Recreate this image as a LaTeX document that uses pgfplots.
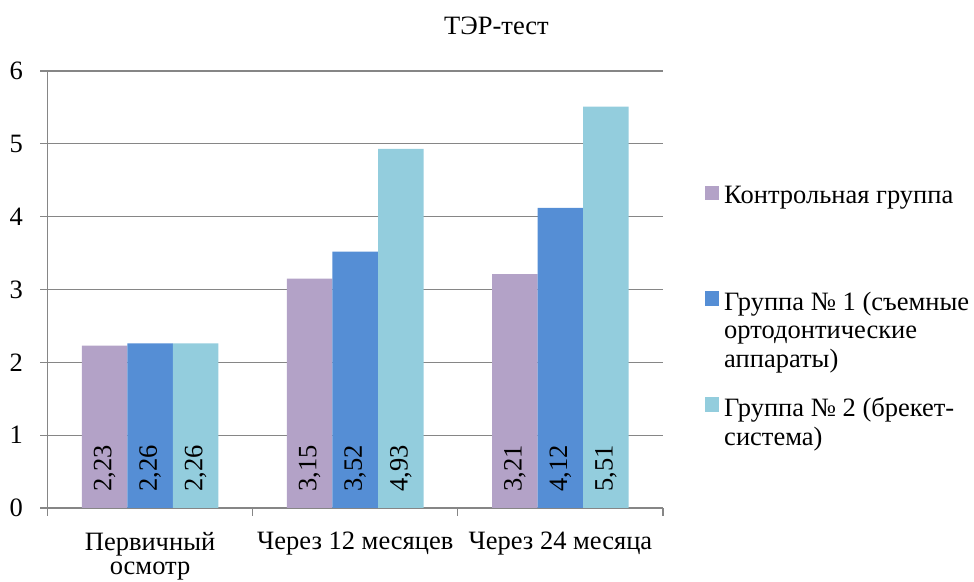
\documentclass[border=0pt]{standalone}
\usepackage{fontspec}
\setmainfont{Liberation Serif}
\usepackage{pgfplots}
\pgfplotsset{compat=1.18}
\definecolor{cA}{HTML}{B3A2C7}
\definecolor{cB}{HTML}{558ED5}
\definecolor{cC}{HTML}{93CDDD}
\definecolor{gridc}{HTML}{868686}
\begin{document}
\fontsize{26.5bp}{28.5bp}\selectfont
\begin{tikzpicture}
\begin{axis}[
  at={(47.5bp,74bp)}, anchor=south west,
  scale only axis, width=615.5bp, height=437bp,
  xmin=-0.5, xmax=2.5, ymin=0, ymax=6,
  axis lines*=left, axis line style={draw=gridc, line width=1.2bp, -},
  ytick={0,1,2,3,4,5,6}, ymajorgrids, grid style={draw=gridc, line width=1.2bp},
  xtick={-0.5,0.5,1.5,2.5}, xticklabels={},
  extra x ticks={0,1,2},
  extra x tick labels={{Первичный\\[-4bp]осмотр},{Через 12 месяцев},{Через 24 месяца}},
  extra x tick style={major tick length=0pt, grid=none},
  tick align=outside, major tick length=7.5bp, tick style={draw=gridc, line width=1.2bp},
  xticklabel style={align=center, anchor=north, inner sep=0pt, yshift=-24bp},
  yticklabel style={anchor=east, inner sep=0pt, xshift=-17bp},
  /pgf/number format/assume math mode=true,
  title={ТЭР-тест}, title style={at={(0.7295,1)}, anchor=base, yshift=31bp, inner sep=0pt},
  legend style={draw=none, fill=none, inner sep=0pt, outer sep=0pt,
    at={(1.068,0.742)}, anchor=north west, row sep=22.6bp, column sep=3.5bp,
    cells={anchor=north west, align=left, inner sep=0pt}},
]
\addplot[ybar, bar width=0.222, bar shift=-0.222, fill=cA, draw=none, forget plot]
  coordinates {(0,2.23) (1,3.15) (2,3.21)};
\addplot[ybar, bar width=0.222, bar shift=0, fill=cB, draw=none, forget plot]
  coordinates {(0,2.26) (1,3.52) (2,4.12)};
\addplot[ybar, bar width=0.222, bar shift=0.222, fill=cC, draw=none, forget plot]
  coordinates {(0,2.26) (1,4.93) (2,5.51)};
\addplot[draw=none, mark=none, forget plot, nodes near coords, point meta=explicit symbolic,
  every node near coord/.append style={rotate=90, anchor=west, inner sep=0pt, text=black}]
  coordinates {(-0.222,0.22) [2,23] (0,0.22) [2,26] (0.222,0.22) [2,26]
               (0.778,0.22) [3,15] (1,0.22) [3,52] (1.222,0.22) [4,93]
               (1.778,0.22) [3,21] (2,0.22) [4,12] (2.222,0.22) [5,51]};
\addlegendimage{legend image code/.code={\fill[cA] (0bp,-15.5bp) rectangle (13.5bp,-2bp);}}
\addlegendentry[text depth=62bp]{Контрольная группа}
\addlegendimage{legend image code/.code={\fill[cB] (0bp,-15.5bp) rectangle (13.5bp,-2bp);}}
\addlegendentry{Группа № 1 (съемные\\ортодонтические\\аппараты)}
\addlegendimage{legend image code/.code={\fill[cC] (0bp,-15.5bp) rectangle (13.5bp,-2bp);}}
\addlegendentry{Группа № 2 (брекет-\\система)}
\end{axis}
\pgfresetboundingbox
\useasboundingbox (0,0) rectangle (974bp,582bp);
\end{tikzpicture}
\end{document}
